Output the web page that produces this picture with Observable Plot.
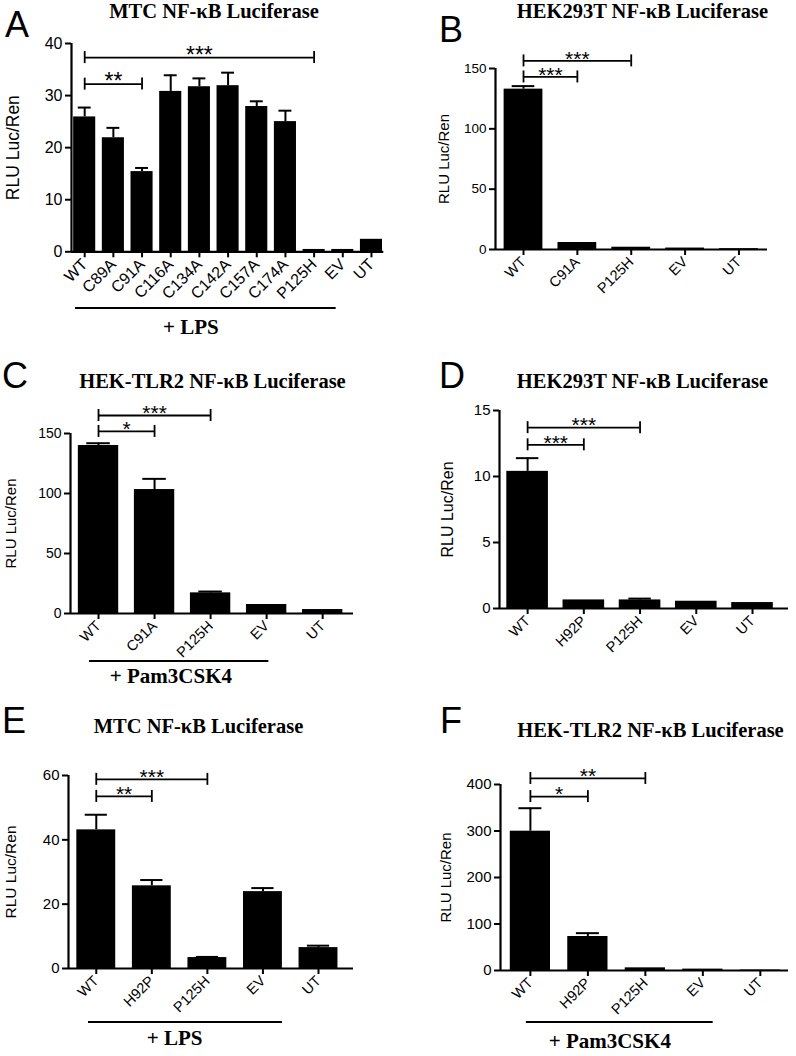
<!DOCTYPE html>
<html><head><meta charset="utf-8">
<script src="https://cdn.jsdelivr.net/npm/d3@7"></script>
<script src="https://cdn.jsdelivr.net/npm/@observablehq/plot@0.6"></script>
<style>
html,body{margin:0;padding:0;background:#fff;}
#fig{position:relative;width:796px;height:1056px;overflow:hidden;background:#fff;}
</style></head><body><div id="fig"></div>
<script>
// ---------- data ----------
const yLabel = "RLU Luc/Ren";

const titleA = "MTC NF-κB Luciferase";
const catsA = ["WT","C89A","C91A","C116A","C134A","C142A","C157A","C174A","P125H","EV","UT"];
const valuesA = [25.9,21.9,15.4,30.8,31.7,31.9,27.9,25.0,0.45,0.45,2.4];
const errorsA = [1.8,1.9,0.7,3.1,1.6,2.5,1.0,2.1,0,0,0];
const yTicksA = [0,10,20,30,40];
const bracketsA = [{from:"WT",to:"P125H",label:"***",level:37.3},{from:"WT",to:"C91A",label:"**",level:32.2}];
const treatmentA = "+ LPS";

const titleB = "HEK293T NF-κB Luciferase";
const catsB = ["WT","C91A","P125H","EV","UT"];
const valuesB = [132.9,5.8,1.9,1.2,0.7];
const errorsB = [2.5,0,0,0,0];
const yTicksB = [0,50,100,150];
const bracketsB = [{from:"WT",to:"P125H",label:"***",level:156.3},{from:"WT",to:"C91A",label:"***",level:143.0}];

const titleC = "HEK-TLR2 NF-κB Luciferase";
const catsC = ["WT","C91A","P125H","EV","UT"];
const valuesC = [140.0,103.3,17.2,7.5,3.3];
const errorsC = [1.9,8.9,1.1,0,0];
const yTicksC = [0,50,100,150];
const bracketsC = [{from:"WT",to:"P125H",label:"***",level:165},{from:"WT",to:"C91A",label:"*",level:151.7}];
const treatmentC = "+ Pam3CSK4";

const titleD = "HEK293T NF-κB Luciferase";
const catsD = ["WT","H92P","P125H","EV","UT"];
const valuesD = [10.39,0.65,0.65,0.55,0.45];
const errorsD = [1.0,0,0.1,0,0];
const yTicksD = [0,5,10,15];
const bracketsD = [{from:"WT",to:"P125H",label:"***",level:13.7},{from:"WT",to:"H92P",label:"***",level:12.4}];

const titleE = "MTC NF-κB Luciferase";
const catsE = ["WT","H92P","P125H","EV","UT"];
const valuesE = [43.1,25.7,3.4,23.9,6.5];
const errorsE = [4.7,1.8,0.2,1.1,0.6];
const yTicksE = [0,20,40,60];
const bracketsE = [{from:"WT",to:"P125H",label:"***",level:58.8},{from:"WT",to:"H92P",label:"**",level:53.5}];
const treatmentE = "+ LPS";

const titleF = "HEK-TLR2 NF-κB Luciferase";
const catsF = ["WT","H92P","P125H","EV","UT"];
const valuesF = [299.6,73.1,5.7,3.0,1.0];
const errorsF = [49.4,7.2,0,0,0];
const yTicksF = [0,100,200,300,400];
const bracketsF = [{from:"WT",to:"P125H",label:"**",level:413},{from:"WT",to:"H92P",label:"*",level:374}];
const treatmentF = "+ Pam3CSK4";

// ---------- layout (pixels / styling) ----------
const layout = {
  A:{frame:{left:70.7,right:383,top:42.7,bottom:251}, xDomain:[-0.46,10.43], barFrac:0.77, capFrac:0.45, yFont:16, xFont:16, labelFont:17.5, starFont:23, labelLeft:6, title:{cx:214,y:18}, letter:{x:5,y:37}, treat:{from:-0.31,to:8.78,at:3.73,lineY:308,textY:334}},
  B:{frame:{left:495,right:767,top:68.3,bottom:249.3}, xDomain:[-0.52,4.53], barFrac:0.72, capFrac:0.42, yFont:13.5, xFont:14.5, labelFont:15, starFont:21, labelLeft:438, title:{cx:642.5,y:18}, letter:{x:439,y:42}},
  C:{frame:{left:70,right:353,top:433,bottom:613}, xDomain:[-0.5,4.55], barFrac:0.72, capFrac:0.42, yFont:14, xFont:14.5, labelFont:15, starFont:21, labelLeft:5, title:{cx:212.5,y:388}, letter:{x:2,y:388}, treat:{from:-0.16,to:3.04,at:1.30,lineY:661,textY:683}},
  D:{frame:{left:499,right:788,top:410,bottom:608}, xDomain:[-0.5,4.64], barFrac:0.74, capFrac:0.4, yFont:15, xFont:14.5, labelFont:16, starFont:21, labelLeft:441, title:{cx:642.5,y:388}, letter:{x:439,y:388}},
  E:{frame:{left:68,right:353,top:775,bottom:968}, xDomain:[-0.5,4.63], barFrac:0.7, capFrac:0.4, yFont:15, xFont:14.5, labelFont:15.5, starFont:21, labelLeft:4, title:{cx:198.5,y:733}, letter:{x:2,y:733}, treat:{from:-0.14,to:3.35,at:1.42,lineY:1022,textY:1045}},
  F:{frame:{left:500,right:788,top:784,bottom:970}, xDomain:[-0.52,4.49], barFrac:0.7, capFrac:0.4, yFont:15, xFont:14.5, labelFont:15, starFont:21, labelLeft:440, title:{cx:650.5,y:737}, letter:{x:440,y:733}, treat:{from:-0.07,to:3.18,at:1.39,lineY:1022,textY:1048}}
};

const fig = document.getElementById("fig");
const overlay = d3.create("svg").attr("width",796).attr("height",1056)
  .style("position","absolute").style("left","0px").style("top","0px").style("pointer-events","none");
const SANS = "'Liberation Sans', Arial, sans-serif";
const SERIF = "'Liberation Serif', 'Times New Roman', serif";

function drawPanel(key, title, cats, values, errors, yTicks, brackets, treatment) {
  const L = layout[key];
  const mL = 75, mR = 20, mT = 50, mB = 70;
  const fw = L.frame.right - L.frame.left, fh = L.frame.bottom - L.frame.top;
  const rows = cats.map((c, i) => ({c, i, v: values[i], e: errors[i]}));
  const pos = Object.fromEntries(cats.map((c, i) => [c, i]));
  const yMax = yTicks[yTicks.length - 1];
  const brk = brackets.map(b => ({...b, x1: pos[b.from], x2: pos[b.to]}));
  const ends = brk.flatMap(b => [{x: b.x1, y: b.level}, {x: b.x2, y: b.level}]);
  const plot = Plot.plot({
    width: fw + mL + mR, height: fh + mT + mB,
    marginLeft: mL, marginRight: mR, marginTop: mT, marginBottom: mB,
    x: {type: "linear", domain: L.xDomain},
    y: {type: "linear", domain: [0, yMax]},
    style: {fontFamily: SANS, fontSize: L.yFont + "px", color: "black", background: "transparent", overflow: "visible"},
    marks: [
      Plot.rect(rows, {x1: d => d.i - L.barFrac/2, x2: d => d.i + L.barFrac/2, y1: 0, y2: "v", fill: "black"}),
      Plot.ruleX(rows, {filter: d => d.e > 0, x: "i", y1: "v", y2: d => d.v + d.e, stroke: "black", strokeWidth: 2}),
      Plot.ruleY(rows, {filter: d => d.e > 0, y: d => d.v + d.e, x1: d => d.i - L.capFrac/2, x2: d => d.i + L.capFrac/2, stroke: "black", strokeWidth: 2}),
      Plot.ruleX([L.xDomain[0]], {y1: 0, y2: yMax, stroke: "black", strokeWidth: 2.2}),
      Plot.ruleY([0], {stroke: "black", strokeWidth: 2.2}),
      Plot.axisY({ticks: yTicks, tickSize: 6, tickPadding: 3, strokeWidth: 2, fontSize: L.yFont, label: null}),
      Plot.text([yLabel], {text: d => d, frameAnchor: "left", rotate: -90, dx: -(L.frame.left - L.labelLeft),
        lineAnchor: "top", textAnchor: "middle", fontSize: L.labelFont, fill: "black"}),
      Plot.axisX({ticks: d3.range(cats.length), tickFormat: i => cats[i], tickRotate: -45, tickSize: 6, tickPadding: 4,
        strokeWidth: 2, fontSize: L.xFont, label: null}),
      Plot.ruleY(brk, {y: "level", x1: "x1", x2: "x2", stroke: "black", strokeWidth: 1.8}),
      Plot.ruleX(ends, {x: "x", y1: "y", y2: "y", insetTop: -6, insetBottom: -6, stroke: "black", strokeWidth: 1.8}),
      Plot.text(brk, {x: d => (d.x1 + d.x2)/2, y: "level", text: "label", fontSize: L.starFont, dy: -2, lineAnchor: "middle", fill: "black"})
    ]
  });
  const left = L.frame.left - mL, top = L.frame.top - mT;
  plot.style.position = "absolute";
  plot.style.left = left + "px";
  plot.style.top = top + "px";
  plot.style.maxWidth = "none";
  fig.appendChild(plot);

  overlay.append("text").attr("x", L.title.cx).attr("y", L.title.y).attr("text-anchor","middle")
    .attr("font-family", SERIF).attr("font-weight","bold").attr("font-size", 20.5).text(title);
  overlay.append("text").attr("x", L.letter.x).attr("y", L.letter.y)
    .attr("font-family", SANS).attr("font-size", 36).text(key);
  if (treatment && L.treat) {
    const xs = plot.scale("x");
    const px = v => left + xs.apply(v);
    overlay.append("line").attr("x1", px(L.treat.from)).attr("x2", px(L.treat.to))
      .attr("y1", L.treat.lineY).attr("y2", L.treat.lineY).attr("stroke","black").attr("stroke-width",2);
    overlay.append("text").attr("x", px(L.treat.at)).attr("y", L.treat.textY).attr("text-anchor","middle")
      .attr("font-family", SERIF).attr("font-weight","bold").attr("font-size", 21).text(treatment);
  }
}

drawPanel("A", titleA, catsA, valuesA, errorsA, yTicksA, bracketsA, treatmentA);
drawPanel("B", titleB, catsB, valuesB, errorsB, yTicksB, bracketsB, null);
drawPanel("C", titleC, catsC, valuesC, errorsC, yTicksC, bracketsC, treatmentC);
drawPanel("D", titleD, catsD, valuesD, errorsD, yTicksD, bracketsD, null);
drawPanel("E", titleE, catsE, valuesE, errorsE, yTicksE, bracketsE, treatmentE);
drawPanel("F", titleF, catsF, valuesF, errorsF, yTicksF, bracketsF, treatmentF);
fig.appendChild(overlay.node());
</script></body></html>
